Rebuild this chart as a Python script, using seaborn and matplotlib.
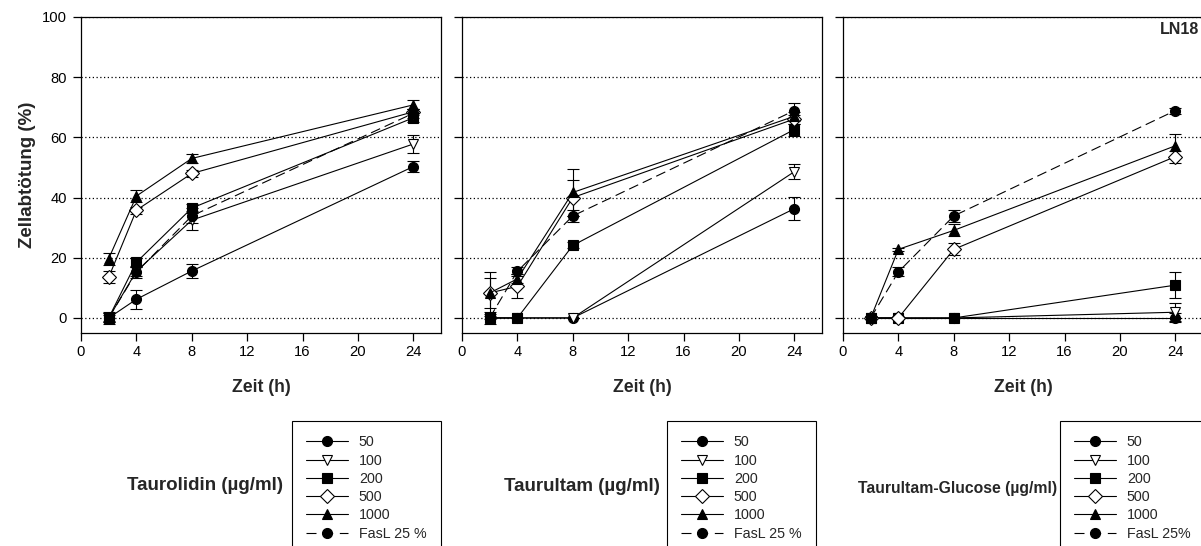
import numpy as np
import pandas as pd
import matplotlib
matplotlib.use("Agg")
import matplotlib.pyplot as plt
import seaborn as sns
from matplotlib.lines import Line2D

# ---------------- data ----------------
times = [2, 4, 8, 24]
series_keys = ["50", "100", "200", "500", "1000", "FasL"]
legend_labels_a = ["50", "100", "200", "500", "1000", "FasL 25 %"]
legend_labels_b = ["50", "100", "200", "500", "1000", "FasL 25%"]
substance_labels = ["Taurolidin (µg/ml)", "Taurultam (µg/ml)", "Taurultam-Glucose (µg/ml)"]
x_ticks = [0, 4, 8, 12, 16, 20, 24]
y_ticks = [0, 20, 40, 60, 80, 100]
x_label = "Zeit (h)"
y_label = "Zellabtötung (%)"
cell_line = "LN18"

# Taurolidin
tl_50 = [0.0, 6.2, 15.6, 50.3]
tl_100 = [0.0, 15.5, 32.5, 57.8]
tl_200 = [0.0, 18.5, 36.5, 66.5]
tl_500 = [13.5, 35.8, 48.0, 68.5]
tl_1000 = [19.7, 40.5, 53.0, 70.8]
tl_fasl = [0.0, 15.2, 33.9, 68.0]
tl_50_err = [2.0, 3.2, 2.3, 1.8]
tl_100_err = [1.5, 1.5, 3.2, 3.0]
tl_200_err = [1.0, 1.5, 1.5, 1.5]
tl_500_err = [2.0, 1.2, 1.0, 1.0]
tl_1000_err = [2.0, 2.0, 1.5, 1.5]
tl_fasl_err = [1.5, 2.0, 2.5, 1.5]

# Taurultam
tt_50 = [0.0, 0.0, 0.0, 36.3]
tt_100 = [0.0, 0.0, 0.0, 48.6]
tt_200 = [0.0, 0.0, 24.1, 62.6]
tt_500 = [8.3, 10.5, 40.0, 66.1]
tt_1000 = [8.3, 13.0, 41.7, 67.0]
tt_fasl = [0.0, 15.5, 33.9, 68.9]
tt_50_err = [0.5, 0.0, 0.0, 3.8]
tt_100_err = [0.0, 0.0, 0.0, 2.5]
tt_200_err = [0.0, 0.0, 1.0, 2.0]
tt_500_err = [5.0, 4.0, 6.0, 1.5]
tt_1000_err = [7.0, 1.5, 7.7, 1.5]
tt_fasl_err = [2.0, 1.5, 2.0, 2.5]

# Taurultam-Glucose
tg_50 = [0.0, 0.0, 0.0, 0.0]
tg_100 = [0.0, 0.0, 0.0, 1.9]
tg_200 = [0.0, 0.0, 0.0, 10.9]
tg_500 = [0.0, 0.0, 22.8, 53.6]
tg_1000 = [0.0, 22.8, 29.1, 57.2]
tg_fasl = [0.0, 15.3, 33.9, 68.9]
tg_50_err = [0.5, 0.0, 0.0, 1.5]
tg_100_err = [0.0, 0.0, 0.0, 3.0]
tg_200_err = [0.0, 0.0, 0.0, 4.3]
tg_500_err = [0.0, 0.5, 2.0, 2.0]
tg_1000_err = [0.0, 0.5, 2.0, 4.0]
tg_fasl_err = [0.5, 1.5, 2.0, 1.0]

panels = [
    ([tl_50, tl_100, tl_200, tl_500, tl_1000, tl_fasl],
     [tl_50_err, tl_100_err, tl_200_err, tl_500_err, tl_1000_err, tl_fasl_err]),
    ([tt_50, tt_100, tt_200, tt_500, tt_1000, tt_fasl],
     [tt_50_err, tt_100_err, tt_200_err, tt_500_err, tt_1000_err, tt_fasl_err]),
    ([tg_50, tg_100, tg_200, tg_500, tg_1000, tg_fasl],
     [tg_50_err, tg_100_err, tg_200_err, tg_500_err, tg_1000_err, tg_fasl_err]),
]

# ---------------- styles ----------------
marker_style = {
    "50": dict(marker="o", markersize=7.2, markerfacecolor="black"),
    "100": dict(marker="v", markersize=7.5, markerfacecolor="white"),
    "200": dict(marker="s", markersize=6.5, markerfacecolor="black"),
    "500": dict(marker="D", markersize=6.7, markerfacecolor="white"),
    "1000": dict(marker="^", markersize=7.5, markerfacecolor="black"),
    "FasL": dict(marker="o", markersize=7.2, markerfacecolor="black"),
}
dash_style = {k: "-" for k in series_keys}
dash_style["FasL"] = (0, (9, 4.5))
legend_dash = {k: "-" for k in series_keys}
legend_dash["FasL"] = (0, (9, 6))

sns.set_style("ticks")
plt.rcParams["font.family"] = ["Liberation Sans", "DejaVu Sans"]

W, H = 1201, 546
fig = plt.figure(figsize=(W / 100, H / 100), dpi=100)

axes_left_px = [81, 462, 843]
ax_bottom_px = 333
ax_top_px = 17
ax_w_px = 360

legend_left_px = [292, 667, 1060]
label_right_px = [283, 660, 1057]
label_y_px = [486, 486.5, 488]
label_sizes = [13.5, 13.5, 11.3]

for i, (vals_list, errs_list) in enumerate(panels):
    ax = fig.add_axes([axes_left_px[i] / W, (H - ax_bottom_px) / H,
                       ax_w_px / W, (ax_bottom_px - ax_top_px) / H])
    for key, vals, errs in zip(series_keys, vals_list, errs_list):
        df = pd.DataFrame({"t": times, "v": vals, "e": errs})
        sub = df[df["e"] > 0]
        ax.errorbar(sub["t"], sub["v"], yerr=sub["e"], fmt="none", ecolor="black",
                    elinewidth=0.8, capsize=4, capthick=0.8, zorder=2)
        sns.lineplot(data=df, x="t", y="v", ax=ax, color="black", linewidth=0.8,
                     linestyle=dash_style[key], markeredgecolor="black",
                     markeredgewidth=0.8, errorbar=None, legend=False, zorder=3,
                     **marker_style[key])

    ax.set_xlim(0, 26)
    ax.set_ylim(-5, 100)
    ax.set_xticks(x_ticks)
    ax.set_yticks(y_ticks)
    ax.yaxis.grid(True, linestyle=(0, (1, 2)), color="black", linewidth=0.9)
    ax.xaxis.grid(False)
    ax.set_axisbelow(True)
    for sp in ax.spines.values():
        sp.set_visible(True)
        sp.set_linewidth(0.9)
        sp.set_color("black")
    ax.tick_params(axis="both", direction="out", length=5.5, width=0.9,
                   colors="black", labelsize=10.6)
    ax.tick_params(axis="x", pad=3.0)
    ax.tick_params(axis="y", pad=4.5)
    ax.set_xlabel(x_label, fontsize=12.7, fontweight="bold")
    ax.xaxis.set_label_coords(0.5, -(387 - ax_bottom_px) / (ax_bottom_px - ax_top_px))
    ax.xaxis.label.set_va("center")
    if i == 0:
        ax.set_ylabel(y_label, fontsize=13.5, fontweight="bold")
        ax.yaxis.set_label_coords(-(81 - 28) / ax_w_px, 0.5)
        ax.yaxis.label.set_va("center")
    else:
        ax.set_ylabel("")
        ax.tick_params(axis="y", labelleft=False)
    if i == 2:
        ax.text((1199 - axes_left_px[i]) / ax_w_px,
                (ax_bottom_px - 30) / (ax_bottom_px - ax_top_px),
                cell_line, transform=ax.transAxes, ha="right", va="center",
                fontsize=11.5, fontweight="bold")

    # legend
    handles = []
    for key in series_keys:
        handles.append(Line2D([0], [0], color="black", linewidth=0.8,
                              linestyle=legend_dash[key],
                              markeredgecolor="black", markeredgewidth=0.8,
                              **marker_style[key]))
    labels = legend_labels_a if i < 2 else legend_labels_b
    leg = fig.legend(handles, labels, loc="upper left",
                     bbox_to_anchor=(legend_left_px[i] / W, (H - 421) / H),
                     bbox_transform=fig.transFigure, frameon=True, fancybox=False,
                     edgecolor="black", framealpha=1, borderaxespad=0,
                     borderpad=1.0, handlelength=2.9, handletextpad=0.77,
                     handleheight=0.7, labelspacing=0.3, fontsize=10.3)
    leg.get_frame().set_linewidth(0.8)

    fig.text(label_right_px[i] / W, (H - label_y_px[i]) / H, substance_labels[i],
             ha="right", va="center", fontsize=label_sizes[i], fontweight="bold")

fig.savefig("out.png", dpi=100)
